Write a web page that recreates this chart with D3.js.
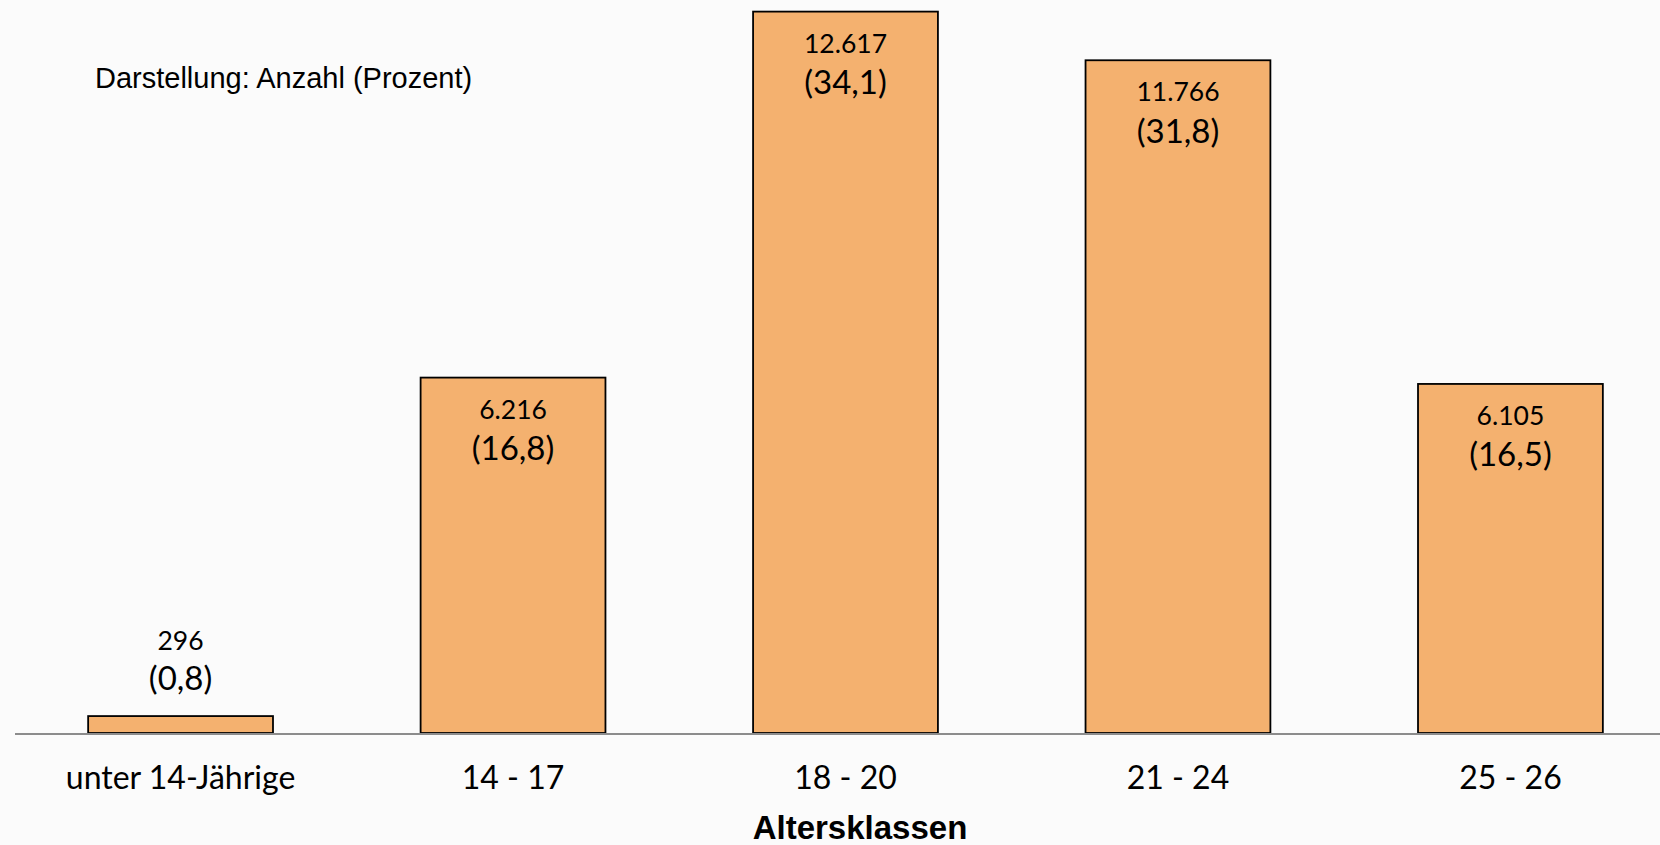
<!DOCTYPE html>
<meta charset='utf-8'>
<style>
  body { margin: 0; background-color: #fbfbfb; }
  #viz svg { display: block; background-color: #fbfbfb; }
  .bar { fill: #f4b16f; stroke: #000000; stroke-width: 1.8; }
  .barText { fill: #000000; font-family: Lato, 'Open Sans', sans-serif; }
  .axisX text { fill: #000000; font-family: Lato, 'Open Sans', sans-serif; font-size: 32px; }
  .headerText { fill: #000000; font-family: 'Liberation Sans', Arial, sans-serif; }
</style>
<body>
<div id='viz'></div>
<script src='https://d3js.org/d3.v7.min.js'></script>
<script>

// Altersklassen
var categories = ['unter 14-Jährige', '14 - 17', '18 - 20', '21 - 24', '25 - 26'];
// Anzahl
var counts = [296, 6216, 12617, 11766, 6105];
// Prozent
var percents = ['0,8', '16,8', '34,1', '31,8', '16,5'];

var countLabels = counts.map(function(d){ return d3.format(',')(d).replace(/,/g, '.'); });

var someData = categories.map(function(c, i){
  return {key: c, value: counts[i], label: countLabels[i], pct: percents[i]};
});

var width = 1660, height = 845;
var baseY = 733;

var svg = d3.select('#viz').append('svg')
    .attr('width', width)
    .attr('height', height);

var xScale = d3.scaleBand()
    .domain(categories)
    .range([15, 1676])
    .paddingInner(0.444)
    .paddingOuter(0.22);

var yScale = d3.scaleLinear()
    .domain([0, 12820])
    .range([baseY, 0]);

// bars
var chart = svg.selectAll('.barGroup')
    .data(someData)
    .enter().append('g')
    .attr('class', 'barGroup');

chart.append('rect')
    .attr('class', 'bar')
    .attr('x', function(d) { return xScale(d.key); })
    .attr('y', function(d) { return yScale(d.value); })
    .attr('width', xScale.bandwidth())
    .attr('height', function(d) { return baseY - yScale(d.value); });

// small bars get their labels above the bar
function inside(d) { return baseY - yScale(d.value) > 120; }

chart.append('text')
    .attr('class', 'barText')
    .attr('x', function(d) { return xScale(d.key) + xScale.bandwidth() / 2; })
    .attr('y', function(d) { return inside(d) ? yScale(d.value) + 41 : yScale(d.value) - 66.5; })
    .attr('text-anchor', 'middle')
    .attr('font-size', '26.5px')
    .text(function(d){ return d.label; });

chart.append('text')
    .attr('class', 'barText')
    .attr('x', function(d) { return xScale(d.key) + xScale.bandwidth() / 2; })
    .attr('y', function(d) { return inside(d) ? yScale(d.value) + 82.5 : yScale(d.value) - 26; })
    .attr('text-anchor', 'middle')
    .attr('font-size', '33px')
    .text(function(d){ return '(' + d.pct + ')'; });

// X axis
var axisG = svg.append('g')
    .attr('class', 'axisX')
    .attr('transform', 'translate(0,' + baseY + ')')
    .call(d3.axisBottom(xScale).tickSize(0));
axisG.select('.domain').remove();
axisG.selectAll('text').attr('dy', 0).attr('y', 56);

svg.append('line')
    .attr('x1', 15)
    .attr('x2', width)
    .attr('y1', baseY + 1)
    .attr('y2', baseY + 1)
    .attr('stroke', '#8c8c8c')
    .attr('stroke-width', 2);

// axis title
svg.append('text')
    .attr('class', 'headerText')
    .attr('x', 860)
    .attr('y', 839)
    .attr('text-anchor', 'middle')
    .attr('font-weight', 'bold')
    .attr('font-size', '33px')
    .text('Altersklassen');

// note
svg.append('text')
    .attr('class', 'headerText')
    .attr('x', 95)
    .attr('y', 88)
    .attr('font-size', '29px')
    .text('Darstellung: Anzahl (Prozent)');

</script>
</body>
